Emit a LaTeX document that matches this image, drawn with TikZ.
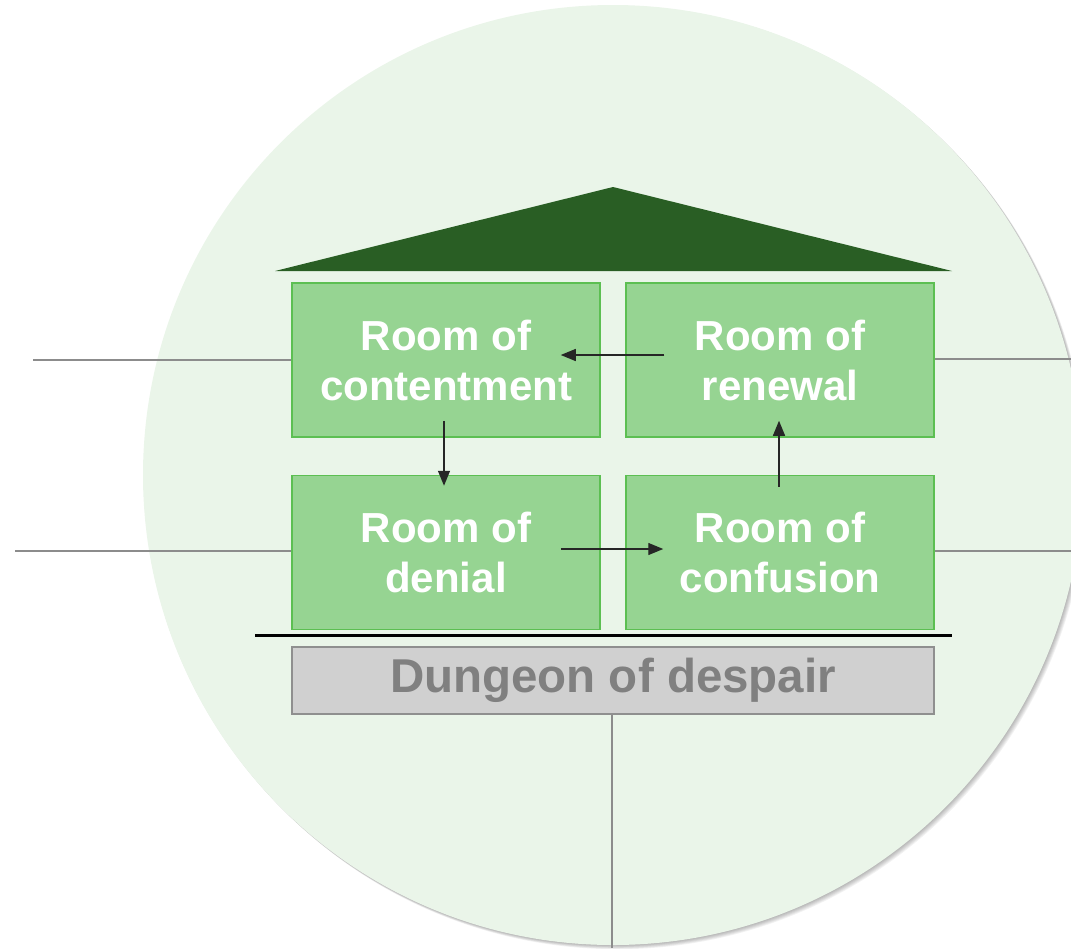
\documentclass[tikz,border=0pt]{standalone}
\usepackage{fontspec}
\setmainfont{Liberation Sans}
\usepackage{xcolor}
\usepackage{tikz}
\usetikzlibrary{arrows.meta}
\definecolor{bgc}{HTML}{EAF5E9}
\definecolor{roomc}{HTML}{96D492}
\definecolor{roomedge}{HTML}{5CBF52}
\definecolor{roofc}{HTML}{295E24}
\definecolor{dungc}{HTML}{D0D0D0}
\definecolor{dungedge}{HTML}{8F8F8F}
\definecolor{dungtext}{HTML}{808080}
\definecolor{guidec}{HTML}{8C8C8C}

\tikzset{
  room/.style={draw=roomedge,line width=1.5pt,fill=roomc,minimum width=308pt,minimum height=154pt,
    inner sep=0pt,align=center,text=white,font=\bfseries\fontsize{42}{50}\selectfont},
  flow/.style={-{Triangle[length=15pt,width=12pt]},line width=1.3pt,black!85},
  guide/.style={guidec,line width=1.4pt}
}

\begin{document}
\begin{tikzpicture}[x=1pt,y=-1pt]
  \useasboundingbox (0,0) rectangle (1071,948);
  % soft shadow behind the big circle
  \foreach \d in {1,2,...,6}
    \fill[black,opacity=0.05] (613+0.7*\d,475+0.7*\d) circle (470);
  \fill[bgc] (613,475) circle (470);

  % roof and floor
  \fill[roofc] (275,271) -- (613,187) -- (952,271) -- cycle;
  \draw[black,line width=3pt] (255,635) -- (952,635);

  \node[room] (content) at (446,360) {Room of\\contentment};
  \node[room] (renew) at (780,360) {Room of\\renewal};
  \node[room] (denial) at (446,552.5) {Room of\\denial};
  \node[room] (confuse) at (780,552.5) {Room of\\confusion};
  \node[draw=dungedge,line width=1.5pt,fill=dungc,minimum width=642pt,minimum height=67pt,inner sep=0pt,
    text=dungtext,font=\bfseries\fontsize{47.5}{50}\selectfont] (dungeon) at (613,680.5) {Dungeon of despair};

  % cycle between the rooms
  \draw[flow,shorten <=-39pt,shorten >=-40pt] ([yshift=5pt]renew.west) -- ([yshift=5pt]content.east);
  \draw[flow,shorten <=-17pt,shorten >=-11pt] ([xshift=-2pt]content.south) -- ([xshift=-2pt]denial.north);
  \draw[flow,shorten <=-40pt,shorten >=-38pt] ([yshift=3.5pt]denial.east) -- ([yshift=3.5pt]confuse.west);
  \draw[flow,shorten <=-12pt,shorten >=-17pt] ([xshift=-1pt]confuse.north) -- ([xshift=-1pt]renew.south);

  % lead lines
  \coordinate (lt) at (33,360);
  \coordinate (lb) at (15,551);
  \coordinate (rt) at (1071,359);
  \coordinate (rb) at (1071,551);
  \coordinate (bt) at (612,948);
  \draw[guide] (lt) -- (content.west);
  \draw[guide] (lb) -- ([yshift=1.5pt]denial.west);
  \draw[guide] ([yshift=1pt]renew.east) -- (rt);
  \draw[guide] ([yshift=1.5pt]confuse.east) -- (rb);
  \draw[guide] ([xshift=-1pt]dungeon.south) -- (bt);
\end{tikzpicture}
\end{document}
